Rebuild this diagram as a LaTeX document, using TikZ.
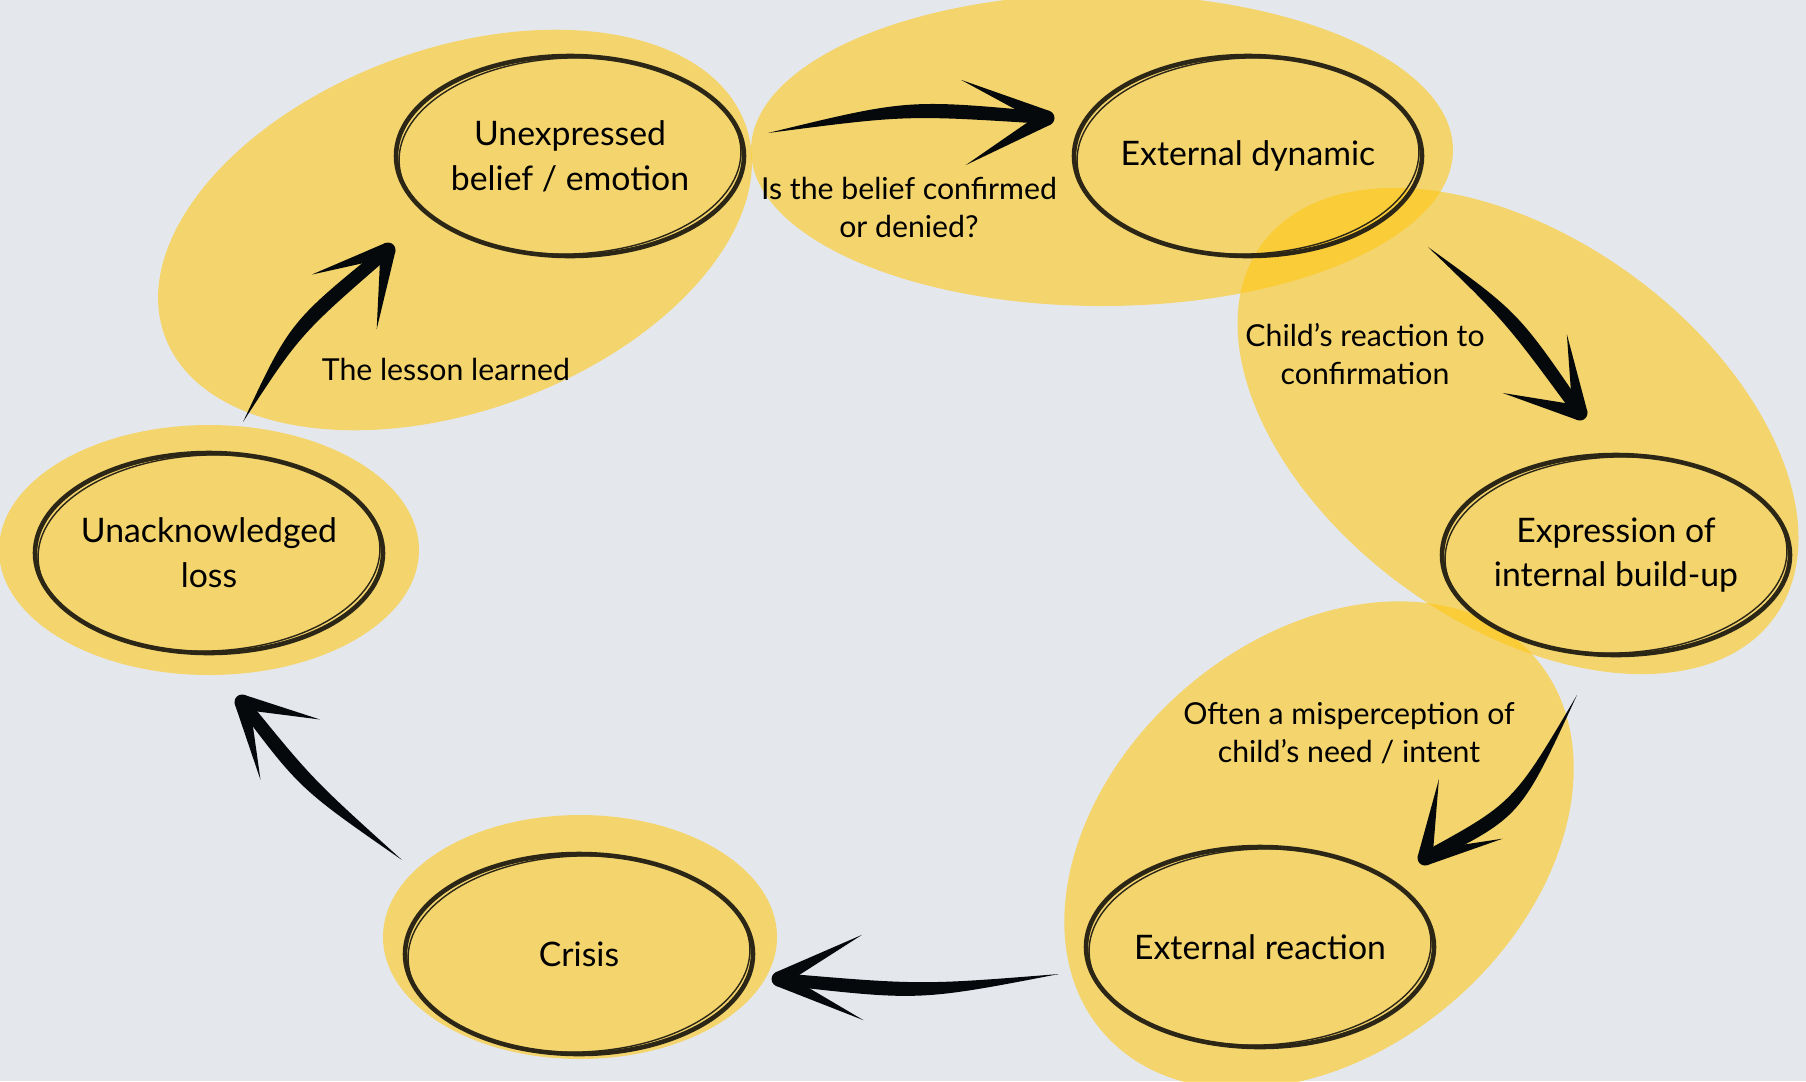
\documentclass[tikz,border=0pt]{standalone}
\usepackage{fontspec}
\setmainfont{Lato}
\usetikzlibrary{calc}
\definecolor{paper}{HTML}{E4E8ED}
\definecolor{sun}{HTML}{FFC716}
\definecolor{brushink}{HTML}{2B2616}
\definecolor{arrowink}{HTML}{05090B}
\tikzset{
  blob/.style={fill=sun, fill opacity=0.6},
  ring/.style={draw=brushink, line width=1.3pt},
  strand/.style={draw=brushink, line width=0.4pt},
  stage/.style={align=center, text=black, font=\fontsize{9.6}{12.7}\selectfont},
  note/.style={align=center, text=black, font=\fontsize{8.6}{10.8}\selectfont},
  inkfill/.style={fill=arrowink},
}
% tail, bend, tip, barb length, barb angle
\newcommand{\brush}[5]{%
  \coordinate (barbA) at ($(#3)!#4!#5:(#1)$);
  \coordinate (barbB) at ($(#3)!#4!-#5:(#1)$);
  \fill[inkfill] (#1) .. controls ($(#2)!0.08cm!90:(#3)$) .. ($(#3)!0.06cm!-90:(#2)$)
    -- ($(#3)!0.06cm!90:(#2)$) .. controls ($(#2)!0.08cm!-90:(#3)$) .. (#1) -- cycle;
  \fill[inkfill] ($(#3)!0.075cm!90:(barbA)$) -- (barbA) -- ($(#3)!0.075cm!-90:(barbA)$) -- cycle;
  \fill[inkfill] ($(#3)!0.075cm!90:(barbB)$) -- (barbB) -- ($(#3)!0.075cm!-90:(barbB)$) -- cycle;
  \fill[inkfill] (#3) circle (0.075cm)}

\begin{document}
\begin{tikzpicture}[x=0.01cm, y=-0.01cm]
    \useasboundingbox (0,0) rectangle (1806,1081);
    \fill[paper] (0,0) rectangle (1806,1081);
    \clip (0,0) rectangle (1806,1081);

    % yellow patches
    \fill[blob, rotate around={20:(455,230)}] (455,230) ellipse [x radius=309, y radius=181];
    \fill[blob] (1102,150) ellipse [x radius=351, y radius=156];
    \fill[blob, rotate around={-36:(1518,431)}] (1518,431) ellipse [x radius=317, y radius=193];
    \fill[blob, rotate around={41:(1319,845)}] (1319,845) ellipse [x radius=286, y radius=206];
    \fill[blob] (580,937) ellipse [x radius=197, y radius=122];
    \fill[blob] (209,550) ellipse [x radius=210, y radius=125];

    \node[stage] (unexp) at (570,156) {Unexpressed\\belief / emotion};
    \node[stage] (extdyn) at (1248,156) {External dynamic};
    \node[stage] (buildup) at (1616,555) {Expression of\\internal build-up};
    \node[stage] (extreact) at (1260,947) {External reaction};
    \node[stage] (crisis) at (579,954) {Crisis};
    \node[stage] (loss) at (209,553) {Unacknowledged\\loss};

    % brush rings
    \foreach \n in {unexp,extdyn,buildup,extreact,crisis,loss} {
      \draw[ring] (\n.center) ellipse [x radius=174, y radius=100];
      \draw[strand, rotate around={2:(\n.center)}] (\n.center) ellipse [x radius=171, y radius=98];
    }

    \node[note] (confirm) at (909,207) {Is the belief confirmed\\or denied?};
    \node[note] (reaction) at (1365,354) {Child's reaction to\\confirmation};
    \node[note] (misread) at (1349,733) {Often a misperception of\\child's need / intent};
    \node[note] (lesson) at (446,369) {The lesson learned};

    \coordinate (ue-tail) at (768,133);
    \coordinate (ue-bend) at (907,107);
    \coordinate (ue-tip) at (1047,118);
    \coordinate (eb-tail) at (1428,247);
    \coordinate (eb-bend) at (1512,317);
    \coordinate (eb-tip) at (1580,413);
    \coordinate (br-tail) at (1577,695);
    \coordinate (br-bend) at (1517,810);
    \coordinate (br-tip) at (1425,858);
    \coordinate (rc-tail) at (1059,974);
    \coordinate (rc-bend) at (920,993);
    \coordinate (rc-tip) at (779,979);
    \coordinate (cl-tail) at (402,860);
    \coordinate (cl-bend) at (306,784);
    \coordinate (cl-tip) at (242,702);
    \coordinate (lu-tail) at (243,422);
    \coordinate (lu-bend) at (295,328);
    \coordinate (lu-tip) at (388,250);

    \brush{ue-tail}{ue-bend}{ue-tip}{0.94cm}{27};
    \brush{eb-tail}{eb-bend}{eb-tip}{0.8cm}{33};
    \brush{br-tail}{br-bend}{br-tip}{0.8cm}{33};
    \brush{rc-tail}{rc-bend}{rc-tip}{0.94cm}{27};
    \brush{cl-tail}{cl-bend}{cl-tip}{0.8cm}{32};
    \brush{lu-tail}{lu-bend}{lu-tip}{0.8cm}{32};
\end{tikzpicture}
\end{document}
